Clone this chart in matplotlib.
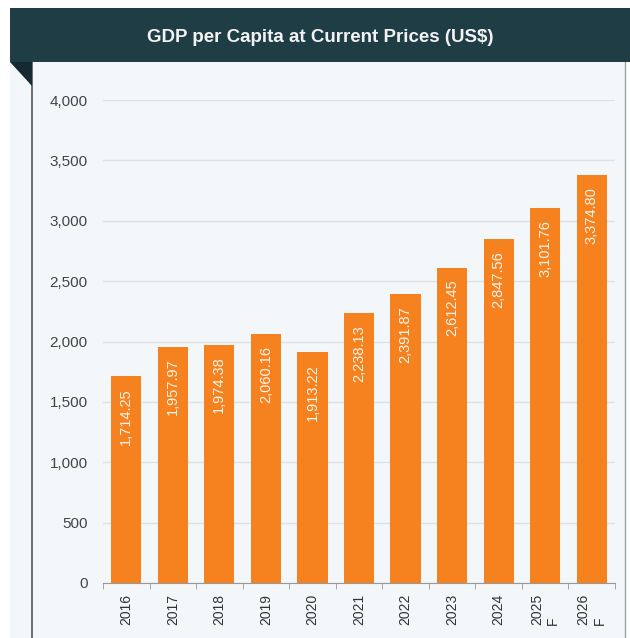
import matplotlib.pyplot as plt
from matplotlib.patches import Rectangle, Polygon

plt.rcParams['font.family'] = ['Liberation Sans', 'DejaVu Sans']

# Data
years = ["2016", "2017", "2018", "2019", "2020", "2021",
         "2022", "2023", "2024", "2025\nF", "2026\nF"]
gdp = [1714.25, 1957.97, 1974.38, 2060.16, 1913.22, 2238.13,
       2391.87, 2612.45, 2847.56, 3101.76, 3374.80]
yticks = [0, 500, 1000, 1500, 2000, 2500, 3000, 3500, 4000]

W, H = 630, 638
orange = '#f5821f'
header = '#1f3d45'
panel = '#f3f7fa'

fig = plt.figure(figsize=(W / 100, H / 100), dpi=100)
fig.patch.set_facecolor('white')


def fx(px):
    return px / W


def fy(py):
    return 1 - py / H


# panel background and borders
fig.patches.append(Rectangle((fx(10), 0), fx(616), fy(62), transform=fig.transFigure,
                             facecolor=panel, edgecolor='none', zorder=-2))
fig.add_artist(plt.Line2D([fx(32), fx(32)], [0, fy(62)], transform=fig.transFigure,
                          color='#555555', lw=1.2, zorder=-1))
fig.add_artist(plt.Line2D([fx(625), fx(625)], [0, fy(62)], transform=fig.transFigure,
                          color='#9aa4a8', lw=1.0, zorder=-1))

# header band + folded corner
fig.patches.append(Rectangle((fx(10), fy(62)), fx(620), fy(8) - fy(62),
                             transform=fig.transFigure, facecolor=header,
                             edgecolor='none', zorder=-1))
fig.patches.append(Polygon([(fx(10), fy(62)), (fx(32), fy(62)), (fx(32), fy(86))],
                           closed=True, transform=fig.transFigure,
                           facecolor='#142a30', edgecolor='none', zorder=-1))
fig.text(fx(320), fy(38), "GDP per Capita at Current Prices (US$)", color='#f2f2f2',
         fontsize=13.5, fontweight='bold', ha='center', va='center')

ax = fig.add_axes([fx(103), fy(583), fx(615) - fx(103), fy(100) - fy(583)])
ax.set_facecolor('none')
ax.set_zorder(3)

x = range(len(years))
bars = ax.bar(x, gdp, width=0.65, color=orange, zorder=3)
for xi, v in zip(x, gdp):
    ax.text(xi, v - 100, f"{v:,.2f}", rotation=90, ha='center', va='top',
            color='#fff4ea', fontsize=10.5, zorder=4)

ax.set_xlim(-0.5, len(years) - 0.5)
ax.set_ylim(0, 4000)
ax.set_yticks(yticks)
ax.set_yticklabels([f"{t:,}" for t in yticks], fontsize=11, color='#444444')
ax.yaxis.grid(True, color='#dde2e5', lw=1, zorder=0)
ax.tick_params(axis='y', length=0, pad=11)

ax.set_xticks(list(x))
ax.set_xticklabels(years, rotation=90, fontsize=10, color='#333333',
                   ha='center', va='top', multialignment='left')
ax.tick_params(axis='x', length=0, pad=8)
# minor ticks between bars
ax.set_xticks([i - 0.5 for i in range(len(years) + 1)], minor=True)
ax.tick_params(axis='x', which='minor', length=4, color='#999999')

for s in ['top', 'right', 'left']:
    ax.spines[s].set_visible(False)
ax.spines['bottom'].set_color('#999999')
ax.spines['bottom'].set_zorder(5)

fig.savefig('out.png', dpi=100, facecolor=fig.get_facecolor())
